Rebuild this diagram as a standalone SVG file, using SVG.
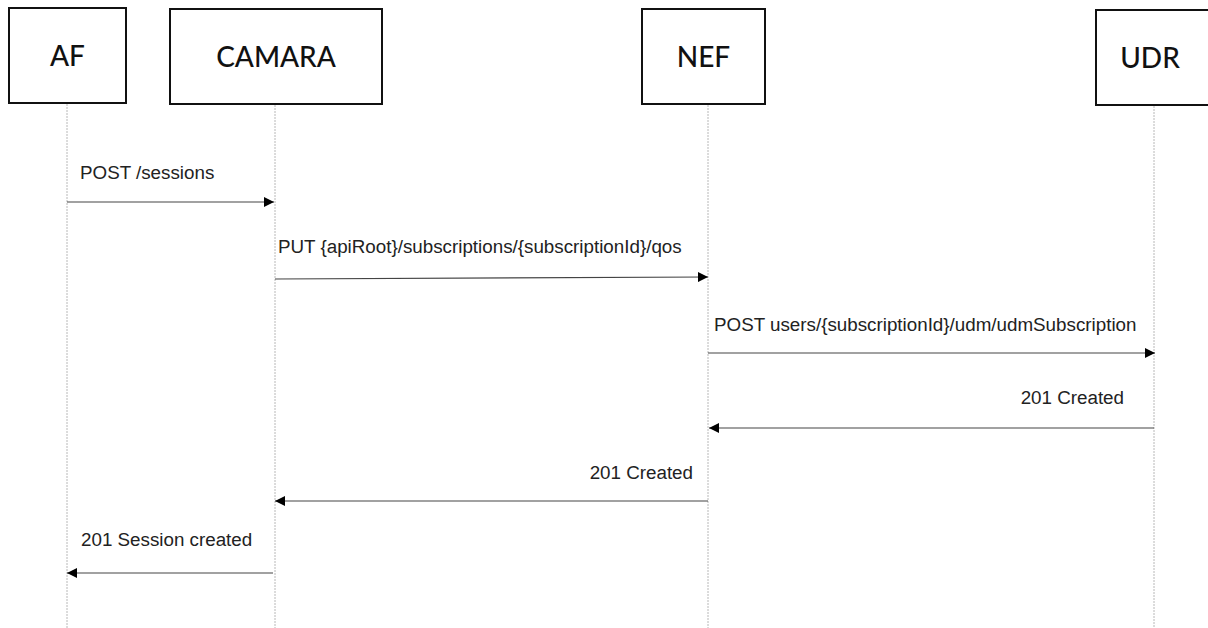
<svg xmlns="http://www.w3.org/2000/svg" width="1208" height="628" viewBox="0 0 1208 628">
<style>
.box{fill:#fff;stroke:#111;stroke-width:2}
.title{font-family:Lato,"Open Sans",sans-serif;font-size:28px;font-weight:500;fill:#111;text-anchor:middle}
.life{stroke:#b8b8b8;stroke-width:1;stroke-dasharray:2 1}
.msg{stroke:#444;stroke-width:1.2;fill:none;marker-end:url(#ah)}
.lbl{font-family:"Liberation Sans",Arial,sans-serif;font-size:18.8px;fill:#222}
</style>
<defs>
<marker id="ah" viewBox="0 0 10 10" refX="10" refY="5" markerWidth="11" markerHeight="10" markerUnits="userSpaceOnUse" orient="auto">
<path d="M0,0 L10,5 L0,10 z" fill="#000"/>
</marker>
</defs>
<rect width="1208" height="628" fill="#fff"/>
<g id="lifelines">
<line class="life" x1="67" y1="104" x2="67" y2="628"/>
<line class="life" x1="275" y1="105" x2="275" y2="628"/>
<line class="life" x1="708" y1="105" x2="708" y2="628"/>
<line class="life" x1="1154" y1="106" x2="1154" y2="628"/>
</g>
<g id="AF"><rect class="box" x="9" y="8" width="117" height="95"/><text class="title" x="67.5" y="66">AF</text></g>
<g id="CAMARA"><rect class="box" x="170" y="9" width="212" height="95"/><text class="title" x="276" y="67">CAMARA</text></g>
<g id="NEF"><rect class="box" x="642" y="9" width="123" height="95"/><text class="title" x="703.5" y="67">NEF</text></g>
<g id="UDR"><rect class="box" x="1096" y="10" width="120" height="95"/><text class="title" x="1150" y="68">UDR</text></g>
<g id="connectors">
<line class="msg" x1="67" y1="202" x2="274" y2="202"/>
<text class="lbl" x="80" y="179">POST /sessions</text>
<line class="msg" x1="275" y1="279" x2="708" y2="277"/>
<text class="lbl" x="278" y="253">PUT {apiRoot}/subscriptions/{subscriptionId}/qos</text>
<line class="msg" x1="708" y1="353" x2="1155" y2="353"/>
<text class="lbl" x="714" y="331">POST users/{subscriptionId}/udm/udmSubscription</text>
<line class="msg" x1="1154" y1="428" x2="709" y2="428"/>
<text class="lbl" x="1124" y="404" text-anchor="end">201 Created</text>
<line class="msg" x1="708" y1="501" x2="275" y2="501"/>
<text class="lbl" x="693" y="479" text-anchor="end">201 Created</text>
<line class="msg" x1="273" y1="573" x2="67" y2="573"/>
<text class="lbl" x="81" y="546">201 Session created</text>
</g>
</svg>
